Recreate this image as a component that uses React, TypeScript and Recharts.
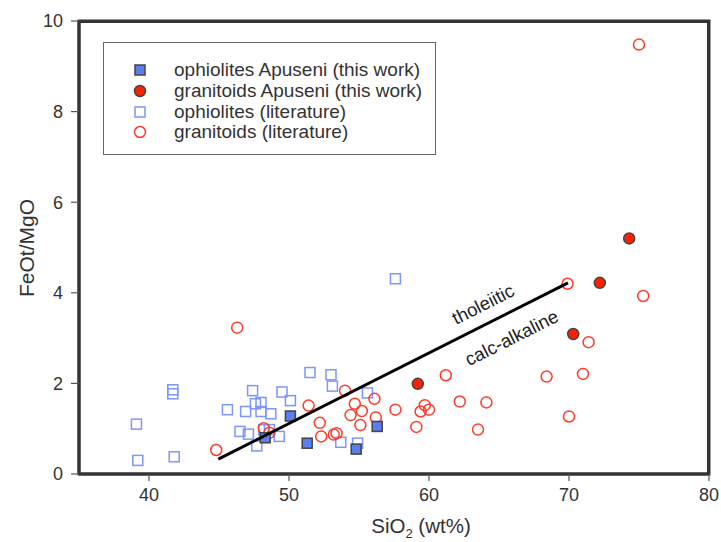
import React from "react";
import {
  ScatterChart,
  Scatter,
  XAxis,
  YAxis,
  ReferenceArea,
} from "recharts";

const FONT = '"Liberation Sans", Arial, sans-serif';

// [SiO2, FeOt/MgO]
const ophiolitesThisWork = [
  [48.3, 0.8], [50.1, 1.28], [51.3, 0.68], [54.8, 0.55], [56.3, 1.05],
];
const granitoidsThisWork = [
  [59.2, 1.99], [70.3, 3.09], [72.2, 4.22], [74.3, 5.2],
];
const ophiolitesLiterature = [
  [39.1, 1.1], [39.2, 0.3], [41.7, 1.86], [41.7, 1.77], [41.8, 0.38],
  [45.6, 1.42], [46.9, 1.38], [47.4, 1.84], [47.6, 1.55], [48.0, 1.58],
  [48.0, 1.38], [48.7, 1.33], [49.5, 1.81], [50.1, 1.62], [46.5, 0.94],
  [47.1, 0.88], [47.7, 0.62], [49.3, 0.83], [48.6, 0.98], [48.2, 0.98],
  [51.5, 2.24], [53.0, 2.19], [53.1, 1.94], [55.6, 1.79], [53.7, 0.7],
  [54.9, 0.68], [57.6, 4.31],
];
const granitoidsLiterature = [
  [75.0, 9.48], [46.3, 3.23], [69.9, 4.2], [75.3, 3.93], [71.4, 2.91],
  [61.2, 2.18], [68.4, 2.15], [71.0, 2.21], [62.2, 1.6], [64.1, 1.58],
  [70.0, 1.27], [63.5, 0.98], [59.1, 1.04], [59.7, 1.52], [59.4, 1.38],
  [60.0, 1.42], [54.0, 1.84], [51.4, 1.51], [54.7, 1.55], [56.1, 1.66],
  [57.6, 1.42], [54.4, 1.3], [55.2, 1.39], [56.2, 1.25], [52.2, 1.13],
  [55.1, 1.08], [52.3, 0.83], [53.2, 0.87], [53.4, 0.9], [44.8, 0.53],
  [48.2, 1.01], [48.6, 0.91],
];

const dividerLine = [
  { x: 44.95, y: 0.33 },
  { x: 69.93, y: 4.22 },
];
const fieldLabels = [
  { x: 63.86, y: 3.75, label: "tholeiitic" },
  { x: 65.9, y: 3.01, label: "calc-alkaline" },
];

const xDomain = [35, 80];
const yDomain = [0, 10];
const xTicks = [40, 50, 60, 70, 80];
const yTicks = [0, 2, 4, 6, 8, 10];

const toPoints = (arr: number[][]) => arr.map(([x, y]) => ({ x, y }));

const FilledSquare = (p: any) => (
  <rect x={p.cx - 5} y={p.cy - 5} width={10} height={10} fill="#5b7ff0" stroke="#444" strokeWidth={1.5} />
);
const FilledCircle = (p: any) => (
  <circle cx={p.cx} cy={p.cy} r={5.5} fill="#ff1e00" stroke="#444" strokeWidth={1.5} />
);
const OpenSquare = (p: any) => (
  <rect x={p.cx - 5} y={p.cy - 5} width={10} height={10} fill="none" stroke="#7d96ff" strokeWidth={1.5} />
);
const OpenCircle = (p: any) => (
  <circle cx={p.cx} cy={p.cy} r={5.5} fill="none" stroke="#ff3a2a" strokeWidth={1.5} />
);
const NoMark = () => <g />;
const FieldLabel = (p: any) => (
  <text
    x={p.cx}
    y={p.cy}
    textAnchor="middle"
    dominantBaseline="central"
    transform={`rotate(-26.7 ${p.cx} ${p.cy})`}
    fontFamily={FONT}
    fontSize={18.5}
    fill="#222"
  >
    {p.payload.label}
  </text>
);

const legendItems = [
  { label: "ophiolites Apuseni (this work)", marker: "fsq" },
  { label: "granitoids Apuseni (this work)", marker: "fci" },
  { label: "ophiolites (literature)", marker: "osq" },
  { label: "granitoids (literature)", marker: "oci" },
];

const LegendMarker = ({ kind }: { kind: string }) => (
  <svg width={14} height={14} style={{ display: "block" }}>
    {kind === "fsq" && <FilledSquare cx={7} cy={7} />}
    {kind === "fci" && <FilledCircle cx={7} cy={7} />}
    {kind === "osq" && <OpenSquare cx={7} cy={7} />}
    {kind === "oci" && <OpenCircle cx={7} cy={7} />}
  </svg>
);

const LegendBox = () => (
  <div
    style={{
      position: "absolute",
      left: 103,
      top: 42,
      width: 333,
      height: 113,
      border: "1px solid #666",
      boxSizing: "border-box",
      paddingTop: 17,
      fontFamily: FONT,
      fontSize: 19,
      color: "#333",
      background: "#fff",
    }}
  >
    {legendItems.map((it) => (
      <div key={it.label} style={{ display: "flex", alignItems: "center", height: 20.7 }}>
        <div style={{ width: 68, display: "flex", justifyContent: "center", paddingLeft: 2 }}>
          <LegendMarker kind={it.marker} />
        </div>
        <span style={{ lineHeight: "20px" }}>{it.label}</span>
      </div>
    ))}
  </div>
);

const XTitle = () => (
  <text x={421} y={533} textAnchor="middle" fontFamily={FONT} fontSize={20.5} fill="#333">
    SiO
    <tspan fontSize={13} dy={5}>2</tspan>
    <tspan dy={-5}> (wt%)</tspan>
  </text>
);

const YTitle = () => (
  <text
    x={26}
    y={248}
    textAnchor="middle"
    dominantBaseline="central"
    transform="rotate(-90 26 248)"
    fontFamily={FONT}
    fontSize={21}
    fill="#333"
  >
    FeOt/MgO
  </text>
);

const frameLine = { stroke: "#333", strokeWidth: 3 };

export default function App() {
  return (
    <div style={{ position: "absolute", left: 0, top: 0, width: 721, height: 542, background: "#fff" }}>
      <ScatterChart width={721} height={542} margin={{ top: 21, right: 12, bottom: 0, left: 0 }}>
        <XAxis
          type="number"
          dataKey="x"
          domain={xDomain}
          ticks={xTicks}
          height={68}
          axisLine={frameLine}
          tickLine={{ stroke: "#555", strokeWidth: 1.2 }}
          tickSize={7}
          tickMargin={7}
          tick={{ fill: "#333", fontSize: 18, fontFamily: FONT }}
          label={{ content: XTitle }}
        />
        <YAxis
          type="number"
          dataKey="y"
          domain={yDomain}
          ticks={yTicks}
          width={79}
          axisLine={frameLine}
          tickLine={{ stroke: "#555", strokeWidth: 1.2 }}
          tickSize={8}
          tickMargin={8}
          tick={{ fill: "#333", fontSize: 18, fontFamily: FONT }}
          label={{ content: YTitle }}
        />
        <ReferenceArea
          x1={xDomain[0]}
          x2={xDomain[1]}
          y1={yDomain[0]}
          y2={yDomain[1]}
          fill="none"
          fillOpacity={0}
          stroke="#333"
          strokeWidth={3}
          strokeOpacity={1}
          ifOverflow="visible"
        />
        <Scatter data={toPoints(ophiolitesLiterature)} shape={OpenSquare} isAnimationActive={false} />
        <Scatter data={toPoints(granitoidsLiterature)} shape={OpenCircle} isAnimationActive={false} />
        <Scatter data={toPoints(ophiolitesThisWork)} shape={FilledSquare} isAnimationActive={false} />
        <Scatter data={toPoints(granitoidsThisWork)} shape={FilledCircle} isAnimationActive={false} />
        <Scatter
          data={dividerLine}
          line={{ stroke: "#000", strokeWidth: 3 }}
          shape={NoMark}
          isAnimationActive={false}
        />
        <Scatter data={fieldLabels} shape={FieldLabel} isAnimationActive={false} />
      </ScatterChart>
      {/* top and right edges of the plot box */}
      <div
        style={{
          position: "absolute",
          left: 79,
          top: 20,
          width: 631,
          height: 454,
          borderTop: "3px solid #333",
          borderRight: "3px solid #333",
          boxSizing: "border-box",
          pointerEvents: "none",
          zIndex: 5,
        }}
      />
      <LegendBox />
    </div>
  );
}
